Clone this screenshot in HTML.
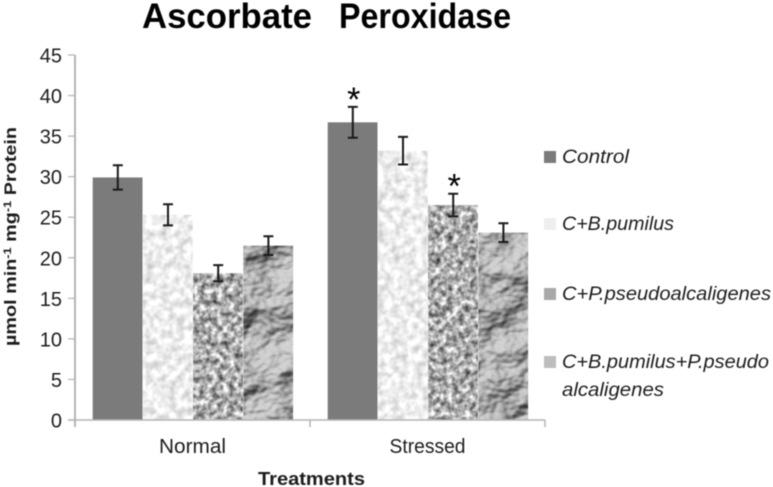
<!DOCTYPE html>
<html lang="en">
<head>
<meta charset="utf-8">
<title>Ascorbate Peroxidase</title>
<style>
html,body{margin:0;padding:0;background:#fff;width:773px;height:487px;overflow:hidden}
svg{display:block;filter:blur(.4px)}
text{font-family:"Liberation Sans","DejaVu Sans",sans-serif;fill:#1c1c1c}
</style>
</head>
<body>
<svg id="chart" xmlns="http://www.w3.org/2000/svg" width="773" height="487" viewBox="0 0 773 487">
  <defs>
    <filter id="tex-light" x="0" y="0" width="1" height="1" color-interpolation-filters="sRGB">
      <feTurbulence type="fractalNoise" baseFrequency="0.13" numOctaves="2" seed="4" result="n"/>
      <feColorMatrix in="n" type="matrix" values="0.42 0 0 0 0.72  0.42 0 0 0 0.72  0.42 0 0 0 0.72  0 0 0 0 1" result="g"/>
      <feComposite in="g" in2="SourceGraphic" operator="in"/>
    </filter>
    <filter id="tex-speckle" x="0" y="0" width="1" height="1" color-interpolation-filters="sRGB">
      <feTurbulence type="fractalNoise" baseFrequency="0.17" numOctaves="2" seed="9" result="n"/>
      <feColorMatrix in="n" type="matrix" values="1.25 0 0 0 0.05  1.25 0 0 0 0.05  1.25 0 0 0 0.05  0 0 0 0 1" result="g"/>
      <feComposite in="g" in2="SourceGraphic" operator="in"/>
    </filter>
    <filter id="tex-rock" x="0" y="0" width="1" height="1" color-interpolation-filters="sRGB">
      <feTurbulence type="fractalNoise" baseFrequency="0.022 0.028" numOctaves="4" seed="12" result="n"/>
      <feDiffuseLighting in="n" surfaceScale="10" diffuseConstant="1" lighting-color="#d4d4d4" result="l">
        <feDistantLight azimuth="225" elevation="58"/>
      </feDiffuseLighting>
      <feComposite in="l" in2="SourceGraphic" operator="in"/>
    </filter>
  </defs>

  <g>
    <text x="142" y="28" font-size="35" font-weight="bold" textLength="170" lengthAdjust="spacingAndGlyphs" style="fill:#000">Ascorbate</text>
    <text x="339" y="28" font-size="35" font-weight="bold" textLength="172" lengthAdjust="spacingAndGlyphs" style="fill:#000">Peroxidase</text>
  </g>

  <text transform="translate(16,346) rotate(-90)" font-size="17" font-weight="bold" textLength="219" lengthAdjust="spacingAndGlyphs">µmol min<tspan font-size="11" dy="-5">-1</tspan><tspan dy="5"> mg</tspan><tspan font-size="11" dy="-5">-1</tspan><tspan dy="5"> Protein</tspan></text>

  <text x="258" y="485" font-size="18" font-weight="bold" textLength="107" lengthAdjust="spacingAndGlyphs">Treatments</text>

  <g id="plot"></g>

  <g id="legend"></g>
</svg>

<script>
var categories = ["Normal", "Stressed"];
var controlValues = [29.9, 36.7];
var pumilusValues = [25.3, 33.2];
var pseudoValues = [18.1, 26.5];
var comboValues = [21.5, 23.1];
var controlErrors = [1.5, 1.9];
var pumilusErrors = [1.3, 1.7];
var pseudoErrors = [1.0, 1.4];
var comboErrors = [1.15, 1.15];
var controlStars = [false, true];
var pumilusStars = [false, false];
var pseudoStars = [false, true];
var comboStars = [false, false];
var yTicks = [0, 5, 10, 15, 20, 25, 30, 35, 40, 45];
var seriesNames = ["Control", "C+B.pumilus", "C+P.pseudoalcaligenes", "C+B.pumilus+P.pseudo alcaligenes"];

var NS = "http://www.w3.org/2000/svg";
var plot = document.getElementById("plot");
var legend = document.getElementById("legend");

var PLOT_LEFT = 75, CAT_WIDTH = 235, BASE_Y = 420, TOP_Y = 55, Y_MAX = 45;
var BAR_WIDTH = 50.2, GROUP_PAD = 17.7;

function yScale(v) { return BASE_Y - (v / Y_MAX) * (BASE_Y - TOP_Y); }
function xScale(catIndex, seriesIndex) { return PLOT_LEFT + catIndex * CAT_WIDTH + GROUP_PAD + seriesIndex * BAR_WIDTH; }

function make(tag, attrs, parent) {
  var el = document.createElementNS(NS, tag);
  for (var k in attrs) el.setAttribute(k, attrs[k]);
  parent.appendChild(el);
  return el;
}

var series = [
  { key: "control", values: controlValues, errors: controlErrors, stars: controlStars, fill: "#7b7b7b", filter: null },
  { key: "pumilus", values: pumilusValues, errors: pumilusErrors, stars: pumilusStars, fill: "#eee", filter: "url(#tex-light)" },
  { key: "pseudo", values: pseudoValues, errors: pseudoErrors, stars: pseudoStars, fill: "#aaa", filter: "url(#tex-speckle)" },
  { key: "combo", values: comboValues, errors: comboErrors, stars: comboStars, fill: "#aaa", filter: "url(#tex-rock)" }
];

var axisColor = "#b4b4b4";

// bars, error bars, significance stars
series.forEach(function (s, si) {
  categories.forEach(function (c, ci) {
    var x = xScale(ci, si), v = s.values[ci], e = s.errors[ci];
    var bar = make("rect", { x: x, y: yScale(v), width: BAR_WIDTH - 0.4, height: BASE_Y - yScale(v), fill: s.fill }, plot);
    if (s.filter) bar.setAttribute("filter", s.filter);
    
    

    var cx = x + BAR_WIDTH / 2, hi = yScale(v + e), lo = yScale(v - e);
    var err = make("path", { d: "M" + (cx - 5) + " " + hi + "H" + (cx + 5) + "M" + cx + " " + hi + "V" + lo + "M" + (cx - 5) + " " + lo + "H" + (cx + 5), stroke: "#1a1a1a", "stroke-width": 2, fill: "none" }, plot);
    
    

    if (s.stars[ci]) {
      var star = make("text", { x: cx + 1, y: hi + 4, "font-size": 34, "text-anchor": "middle", style: "fill:#000" }, plot);
      star.textContent = "*";
      
      
    }
  });
});

// y axis
var yAxis = make("line", { x1: PLOT_LEFT, x2: PLOT_LEFT, y1: TOP_Y, y2: BASE_Y + 7, stroke: axisColor, "stroke-width": 2 }, plot);



yTicks.forEach(function (t) {
  var tick = make("line", { x1: PLOT_LEFT - 7, x2: PLOT_LEFT, y1: yScale(t), y2: yScale(t), stroke: axisColor, "stroke-width": 1.2 }, plot);
  
  
  var label = make("text", { x: 62, y: yScale(t) + 7.5, "font-size": 20, "text-anchor": "end" }, plot);
  label.textContent = String(t);
  
  
});

// x axis
var xAxis = make("line", { x1: PLOT_LEFT - 7, x2: PLOT_LEFT + CAT_WIDTH * categories.length, y1: BASE_Y, y2: BASE_Y, stroke: axisColor, "stroke-width": 1.5 }, plot);



var categoryLabelWidths = [67, 76];
categories.forEach(function (c, ci) {
  var tx = PLOT_LEFT + (ci + 1) * CAT_WIDTH;
  var tick = make("line", { x1: tx, x2: tx, y1: BASE_Y, y2: BASE_Y + 7, stroke: axisColor, "stroke-width": 1.5 }, plot);
  
  
  var label = make("text", { x: PLOT_LEFT + (ci + 0.5) * CAT_WIDTH, y: 453, "font-size": 20, "text-anchor": "middle", textLength: categoryLabelWidths[ci], lengthAdjust: "spacingAndGlyphs" }, plot);
  label.textContent = c;
  
  
});

// legend
var swatchFills = ["#7b7b7b", "#eeeeee", "#a8a8a8", "#bdbdbd"];
var legendTops = [151, 218, 288, 356];
var legendLines = [["Control"], ["C+B.pumilus"], ["C+P.pseudoalcaligenes"], ["C+B.pumilus+P.pseudo", "alcaligenes"]];
var legendWidths = [[67], [112], [209], [207, 102]];

seriesNames.forEach(function (name, i) {
  var entry = make("g", {}, legend);
  
  
  var sw = make("rect", { x: 544, y: legendTops[i], width: 12, height: 12, fill: swatchFills[i] }, entry);
  
  
  legendLines[i].forEach(function (line, li) {
    var t = make("text", { x: 562, y: legendTops[i] + 12 + li * 28, "font-size": 19, "font-style": "italic", textLength: legendWidths[i][li], lengthAdjust: "spacingAndGlyphs" }, entry);
    t.textContent = line;
    
    
  });
});
</script>
</body>
</html>
